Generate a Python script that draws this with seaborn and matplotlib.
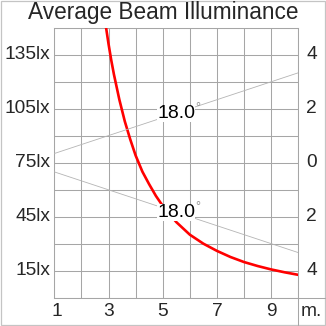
import matplotlib
matplotlib.use("Agg")
import matplotlib.pyplot as plt
import seaborn as sns
import pandas as pd
from matplotlib.patches import Rectangle
from matplotlib.lines import Line2D

# ---- data ----
distance_m = [2.9, 3.0, 3.1, 3.2, 3.3, 3.4, 3.5, 3.6, 3.7, 3.8, 3.9, 4.0, 4.25, 4.5, 4.75,
              5.0, 5.5, 6.0, 6.5, 7.0, 7.5, 8.0, 8.5, 9.0, 9.5, 10.0]
illuminance_lx = [151, 141, 132, 124, 117, 110, 104, 98, 93, 88, 83.5, 79, 70, 63, 56.5,
                  51, 42, 35, 30, 26, 22.6, 19.8, 17.6, 15.7, 14.1, 12.7]

beam_dist = [1, 10]
beam_half = [0.34, 3.33]
beam_label = "18.0"

left_ticks = [15, 45, 75, 105, 135]
left_labels = ["15lx", "45lx", "75lx", "105lx", "135lx"]
right_ticks = [4, 2, 0, -2, -4]
right_labels = ["4", "2", "0", "2", "4"]
x_ticks = [1, 3, 5, 7, 9]
title = "Average Beam Illuminance"

sns.set_style("white")
plt.rcParams['font.family'] = ['Liberation Sans', 'DejaVu Sans']

W = 326
fig = plt.figure(figsize=(3.26, 3.26), dpi=100)
L, R, T, B = 54.3, 298.3, 27.7, 297.7
ax = fig.add_axes([L / W, (W - B) / W, (R - L) / W, (B - T) / W])

grid_c = "#a6a6a6"
ax.set_xlim(1, 10)
ax.set_ylim(0, 150)
ax.set_xticks(range(1, 11))
ax.set_yticks(range(0, 151, 15))
ax.grid(True, color=grid_c, linewidth=0.75)
ax.set_axisbelow(True)
for s in ax.spines.values():
    s.set_color(grid_c)
    s.set_linewidth(0.75)
ax.tick_params(length=0, labelleft=False, labelbottom=False)

df = pd.DataFrame({"d": distance_m, "lx": illuminance_lx})
sns.lineplot(data=df, x="d", y="lx", ax=ax, color="#ff0000", linewidth=1.9, zorder=5)
ax.set_xlabel("")
ax.set_ylabel("")

ax2 = ax.twinx()
ax2.set_ylim(-5, 5)
for s in ax2.spines.values():
    s.set_visible(False)
bdf = pd.DataFrame({"d": beam_dist + beam_dist,
                    "w": beam_half + [-v for v in beam_half],
                    "side": ["up", "up", "lo", "lo"]})
sns.lineplot(data=bdf, x="d", y="w", units="side", estimator=None, ax=ax2,
             color="#b4b4b4", linewidth=0.6, zorder=3)
ax2.set_xlabel("")
ax2.set_ylabel("")
ax2.set_yticks([])
ax2.set_xlim(1, 10)

# beam angle labels
xm = 5.5
ym = beam_half[0] + (beam_half[1] - beam_half[0]) * (xm - beam_dist[0]) / (beam_dist[1] - beam_dist[0])
for sgn in (1, -1):
    ax2.text(xm, sgn * ym, beam_label, ha="center", va="center", fontsize=14,
             color="black", zorder=6,
             bbox=dict(facecolor="white", edgecolor="none", pad=0.0))
    ax2.annotate("°", (xm, sgn * ym), xytext=(15.5, 4), textcoords="offset points",
                 ha="center", va="center", fontsize=9, color="#909090", zorder=6)

# tick labels as figure text
fs = 13.8
def fx(px):
    return px / W
def fy(py):
    return 1 - py / W
for v, lab in zip(left_ticks, left_labels):
    py = B - (B - T) * v / 150
    fig.text(fx(50.5), fy(py), lab, ha="right", va="center", fontsize=fs)
for v, lab in zip(right_ticks, right_labels):
    py = B - (B - T) * (v + 5) / 10
    fig.text(fx(311.5), fy(py), lab, ha="center", va="center", fontsize=fs)
for v in x_ticks:
    px = L + (R - L) * (v - 1) / 9
    if v == 1:
        px += 2.5
    fig.text(fx(px), fy(311.5), str(v), ha="center", va="center", fontsize=fs)
fig.text(fx(311.5), fy(311.5), "m.", ha="center", va="center", fontsize=fs)

fig.text(0.5, fy(12), title, ha="center", va="center", fontsize=16.3)

# frame and separator lines
fig.patches.append(Rectangle((fx(1), fy(324.5)), fx(323.5), fx(323.5), transform=fig.transFigure,
                             fill=False, edgecolor="#c4c4c4", linewidth=0.9))
fig.lines.append(Line2D([fx(R), fx(R)], [fy(B), fy(324.5)], transform=fig.transFigure,
                        color=grid_c, linewidth=0.75))
fig.lines.append(Line2D([fx(R), fx(324.5)], [fy(B), fy(B)], transform=fig.transFigure,
                        color=grid_c, linewidth=0.75))

fig.savefig("out.png", dpi=100)
